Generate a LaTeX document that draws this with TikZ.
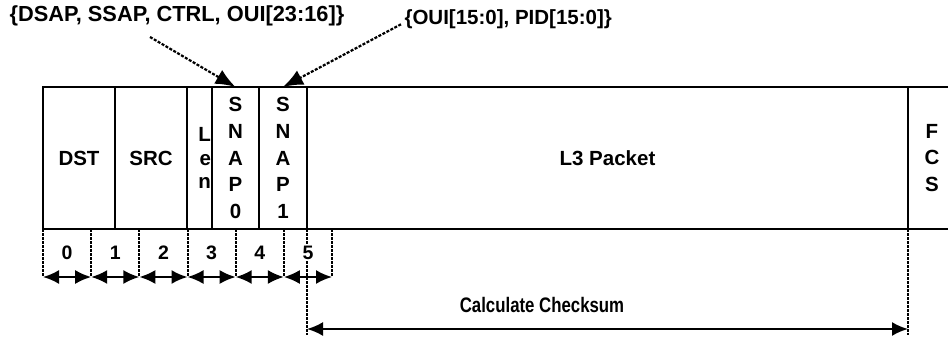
\documentclass[tikz,border=0pt]{standalone}
\usepackage{fontspec}
\setmainfont{Liberation Sans}
\newfontfamily\narrowfont[FakeStretch=0.8]{Liberation Sans}
\usetikzlibrary{arrows.meta,positioning,calc}

\begin{document}
\begin{tikzpicture}[x=1pt, y=-1pt, every node/.style={font=\bfseries\fontsize{20.5}{26.7}\selectfont}]
\tikzset{field/.style={draw, line width=2pt, outer sep=0pt, inner sep=0pt, minimum height=142pt, align=center}}
\tikzset{tick/.style={line width=2pt, dash pattern=on 2.5pt off 1.5pt}}
\tikzset{span/.style={line width=2pt, {Latex[length=16pt,width=14pt]}-{Latex[length=16pt,width=14pt]}}}
\tikzset{pointer/.style={line width=2.2pt, dash pattern=on 3pt off 1.5pt, -{Latex[length=20pt,width=16pt]}}}
\useasboundingbox (0,0) rectangle (948,337);
% frame fields
\node[field, minimum width=72pt, anchor=north west] (dst) at (43,87) {DST};
\node[field, minimum width=72pt, right=0pt of dst] (src) {SRC};
\node[field, minimum width=25pt, right=0pt of src, text width=23pt, align=right, font=\bfseries\fontsize{20.5}{23.5}\selectfont] (len) {L\\e\\n};
\node[field, minimum width=47pt, right=0pt of len] (snap0) {S\\N\\A\\P\\0};
\node[field, minimum width=48pt, right=0pt of snap0] (snap1) {S\\N\\A\\P\\1};
\node[field, minimum width=601pt, right=0pt of snap1] (l3) {L3 Packet};
\node[field, draw=none, minimum width=48pt, right=0pt of l3] (fcs) {F\\C\\S};
\coordinate (edgetop) at (948,87);
\coordinate (edgebot) at (948,229);
\draw[line width=2pt] (fcs.north west) -- (edgetop) (fcs.south west) -- (edgebot);
% sub-fields above
\node[font=\bfseries\fontsize{21.8}{24}\selectfont] (llc) at (177,16) {\{DSAP, SSAP, CTRL, OUI[23:16]\}};
\node[font=\bfseries\fontsize{20.5}{24}\selectfont, anchor=west] (oui) at (401,19) {\{OUI[15:0], PID[15:0]\}};
\coordinate (llcfoot) at (150,37);
\draw[pointer] (llcfoot) -- (snap0.north);
\draw[pointer] (oui.base west) -- (snap1.north);
% byte ruler
\foreach \i in {0,...,6} {
  \coordinate (t\i) at (43+48.17*\i,229);
  \coordinate (a\i) at (43+48.17*\i,277);
  \draw[tick] (t\i) -- (a\i);
}
\coordinate (ck0) at ($(l3.south west)+(0,106)$);
\coordinate (ck1) at ($(fcs.south west)+(0,106)$);
\draw[tick] (l3.south west) -- (ck0);
\draw[tick] (fcs.south west) -- (ck1);
\foreach \i [count=\j] in {0,...,5} {
  \draw[span] (a\i) -- (a\j);
  \node[fill=white, inner sep=1pt, font=\bfseries\fontsize{19.5}{20}\selectfont] (n\i) at ($(t\i)!0.5!(a\j)$) {\i};
}
% checksum span
\coordinate (ca0) at ($(ck0)+(0,-6)$);
\coordinate (ca1) at ($(ck1)+(0,-6)$);
\draw[span] (ca0) -- (ca1);
\node[font=\narrowfont\bfseries\fontsize{21}{24}\selectfont] (cks) at (542,305) {Calculate Checksum};
\end{tikzpicture}
\end{document}
